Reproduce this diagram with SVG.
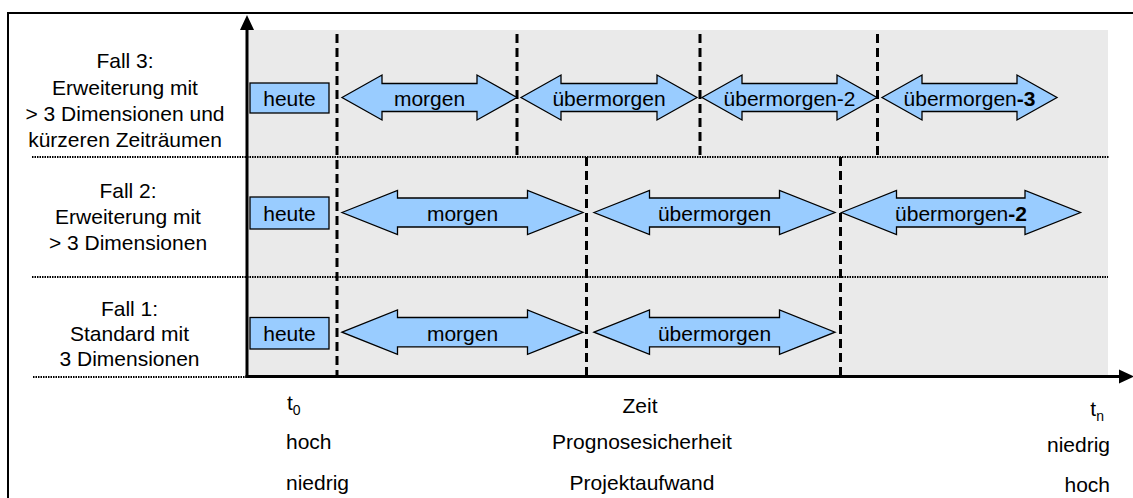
<svg xmlns="http://www.w3.org/2000/svg" width="1133" height="498" viewBox="0 0 1133 498">
  <style>
    text { font-family: "Liberation Sans", Arial, sans-serif; font-size: 21px; fill: #000; }
    .mid { text-anchor: middle; }
    .end { text-anchor: end; }
    .sub { font-size: 14px; }
    .b { font-weight: bold; }
    .box { fill: #99ccff; stroke: #000; stroke-width: 1.3; }
    .arrow { fill: #99ccff; stroke: #000; stroke-width: 1.3; stroke-linejoin: miter; }
    .sep { stroke: #000; stroke-width: 2; stroke-dasharray: 1.5 1; fill: none; }
    .period { stroke: #000; stroke-width: 3; stroke-dasharray: 9 5; fill: none; }
    .axis { stroke: #000; stroke-width: 3; fill: none; }
  </style>

  <!-- outer frame -->
  <rect x="8" y="13" width="1200" height="600" fill="#fff" stroke="#000" stroke-width="2"/>

  <!-- time plane -->
  <rect x="248" y="30" width="860" height="346" fill="#eaeaea"/>

  <g id="connectors">
    <!-- row separators -->
    <line class="sep" x1="32" y1="157" x2="1109" y2="157"/>
    <line class="sep" x1="32" y1="277" x2="1108" y2="277"/>
    <line class="sep" x1="33" y1="377" x2="247" y2="377"/>

    <!-- period boundaries -->
    <line class="period" x1="337" y1="34" x2="337" y2="377"/>
    <line class="period" x1="517" y1="34" x2="517" y2="157"/>
    <line class="period" x1="700" y1="34" x2="700" y2="157"/>
    <line class="period" x1="877.5" y1="34" x2="877.5" y2="157"/>
    <line class="period" x1="586.5" y1="157" x2="586.5" y2="377"/>
    <line class="period" x1="840.5" y1="157" x2="840.5" y2="377"/>

    <!-- axes -->
    <line class="axis" x1="247" y1="378" x2="247" y2="28"/>
    <polygon points="240,30 254,30 247,15" fill="#000"/>
    <line class="axis" x1="245.5" y1="376.5" x2="1121" y2="376.5"/>
    <polygon points="1119,369.5 1119,383.5 1134,376.5" fill="#000"/>
  </g>

  <!-- row labels -->
  <g id="fall3">
    <text class="mid" x="125" y="68">Fall 3:</text>
    <text class="mid" x="125" y="94.5">Erweiterung mit</text>
    <text class="mid" x="125" y="120.5">&gt; 3 Dimensionen und</text>
    <text class="mid" x="125" y="146.5">kürzeren Zeiträumen</text>
  </g>
  <g id="fall2">
    <text class="mid" x="128" y="197.5">Fall 2:</text>
    <text class="mid" x="128" y="223.5">Erweiterung mit</text>
    <text class="mid" x="128" y="249.5">&gt; 3 Dimensionen</text>
  </g>
  <g id="fall1">
    <text class="mid" x="129.5" y="316">Fall 1:</text>
    <text class="mid" x="129.5" y="341">Standard mit</text>
    <text class="mid" x="129.5" y="366">3 Dimensionen</text>
  </g>

  <!-- row 3 -->
  <g id="r3-heute">
    <rect class="box" x="250" y="83" width="79" height="30"/>
    <text class="mid" x="289.5" y="105.5">heute</text>
  </g>
  <g id="r3-morgen">
    <polygon class="arrow" points="342,97.5 382,75 382,83.5 477,83.5 477,75 517,97.5 477,120 477,111.5 382,111.5 382,120"/>
    <text class="mid" x="429.5" y="105.5">morgen</text>
  </g>
  <g id="r3-uebermorgen">
    <polygon class="arrow" points="521,97.5 561,75 561,83.5 657,83.5 657,75 697,97.5 657,120 657,111.5 561,111.5 561,120"/>
    <text class="mid" x="609" y="105.5">übermorgen</text>
  </g>
  <g id="r3-uebermorgen-2">
    <polygon class="arrow" points="702,97.5 742,75 742,83.5 837,83.5 837,75 877,97.5 837,120 837,111.5 742,111.5 742,120"/>
    <text class="mid" x="789.5" y="105.5">übermorgen-2</text>
  </g>
  <g id="r3-uebermorgen-3">
    <polygon class="arrow" points="882,97.5 922,75 922,83.5 1017,83.5 1017,75 1057,97.5 1017,120 1017,111.5 922,111.5 922,120"/>
    <text class="mid" x="969.5" y="105.5">übermorgen<tspan class="b">-3</tspan></text>
  </g>

  <!-- row 2 -->
  <g id="r2-heute">
    <rect class="box" x="250" y="197" width="79" height="32"/>
    <text class="mid" x="289.5" y="220.5">heute</text>
  </g>
  <g id="r2-morgen">
    <polygon class="arrow" points="342,212.5 397.5,190.5 397.5,198 527.5,198 527.5,190.5 583,212.5 527.5,234.5 527.5,227 397.5,227 397.5,234.5"/>
    <text class="mid" x="462.5" y="220.5">morgen</text>
  </g>
  <g id="r2-uebermorgen">
    <polygon class="arrow" points="594,212.5 649.5,190.5 649.5,198 779.5,198 779.5,190.5 835,212.5 779.5,234.5 779.5,227 649.5,227 649.5,234.5"/>
    <text class="mid" x="714.5" y="220.5">übermorgen</text>
  </g>
  <g id="r2-uebermorgen-2">
    <polygon class="arrow" points="841.5,212.5 896.5,190.5 896.5,198 1025,198 1025,190.5 1080.5,212.5 1025,234.5 1025,227 896.5,227 896.5,234.5"/>
    <text class="mid" x="961" y="220.5">übermorgen<tspan class="b">-2</tspan></text>
  </g>

  <!-- row 1 -->
  <g id="r1-heute">
    <rect class="box" x="250" y="317.5" width="79" height="31.5"/>
    <text class="mid" x="289.5" y="340.5">heute</text>
  </g>
  <g id="r1-morgen">
    <polygon class="arrow" points="342,332.2 397.5,310 397.5,317.5 527.5,317.5 527.5,310 583,332.2 527.5,354.4 527.5,346.8 397.5,346.8 397.5,354.4"/>
    <text class="mid" x="462.5" y="340.5">morgen</text>
  </g>
  <g id="r1-uebermorgen">
    <polygon class="arrow" points="594,332.2 649.5,310 649.5,317.5 779.5,317.5 779.5,310 835,332.2 779.5,354.4 779.5,346.8 649.5,346.8 649.5,354.4"/>
    <text class="mid" x="714.5" y="340.5">übermorgen</text>
  </g>

  <!-- axis legend -->
  <g id="legend">
    <text x="287" y="409.5">t<tspan class="sub" dy="5">0</tspan></text>
    <text class="mid" x="640" y="412.5">Zeit</text>
    <text class="end" x="1104" y="416">t<tspan class="sub" dy="5">n</tspan></text>
    <text x="286" y="449">hoch</text>
    <text class="mid" x="642" y="449">Prognosesicherheit</text>
    <text class="end" x="1110" y="452">niedrig</text>
    <text x="286" y="489.5">niedrig</text>
    <text class="mid" x="642" y="490">Projektaufwand</text>
    <text class="end" x="1110" y="492">hoch</text>
  </g>
</svg>
